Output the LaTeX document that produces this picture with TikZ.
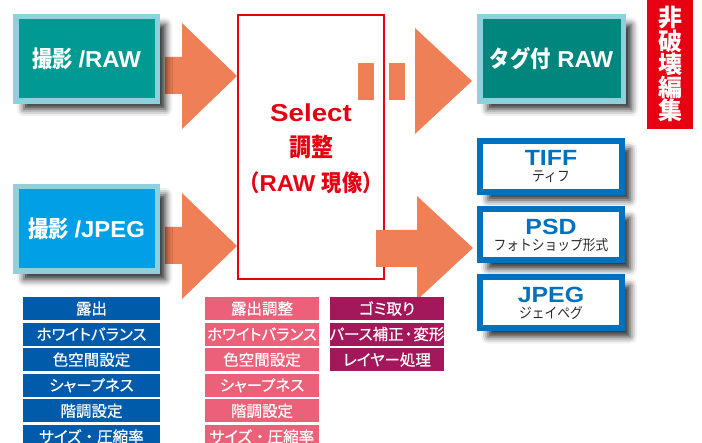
\documentclass[tikz,border=0pt]{standalone}
\usepackage{fontspec}
\setmainfont[FakeStretch=1.04]{Liberation Sans}
\newfontfamily\widelat[FakeStretch=1.13]{Liberation Sans}
\newfontfamily\jp[FakeStretch=0.88]{Noto Sans CJK JP}
\newfontfamily\jplist[FakeBold=0.6,RawFeature=+palt]{Noto Sans CJK JP}
\newfontfamily\jpw{Noto Sans CJK JP}
\newcommand\nakaten{\hspace{4pt}・\hspace{4pt}}
\newcommand\nakatens{\hspace{1pt}・\hspace{1pt}}
\usetikzlibrary{shadows.blur}
\definecolor{tealL}{HTML}{009A92}
\definecolor{tealR}{HTML}{00867C}
\definecolor{lblue}{HTML}{8ED1DD}
\definecolor{brightblue}{HTML}{009FE6}
\definecolor{frameblue}{HTML}{0071BC}
\definecolor{listblue}{HTML}{005BAB}
\definecolor{listpink}{HTML}{EA6179}
\definecolor{listpurple}{HTML}{A3185A}
\definecolor{arrorange}{HTML}{EF7F56}
\definecolor{redc}{HTML}{E60012}
\definecolor{darktext}{HTML}{2B2B2B}
\begin{document}
\begin{tikzpicture}[x=1pt,y=-1pt,
  boxshadow/.style={blur shadow={shadow xshift=8pt,shadow yshift=-8pt,shadow blur radius=7pt,shadow opacity=85}},
  inbox/.style={boxshadow,draw=lblue,line width=5.5pt,inner sep=0pt,minimum width=141.5pt,minimum height=84.5pt,text=white,font=\fontsize{23}{26}\selectfont\bfseries},
  fmtbox/.style={boxshadow,draw=frameblue,fill=white,line width=6pt,inner sep=0pt,minimum width=142pt,minimum height=51pt},
  fmtbig/.style={text=frameblue,font=\widelat\fontsize{22}{24}\selectfont\bfseries,inner sep=0pt},
  fmtsmall/.style={text=darktext,font=\jp\fontsize{14.5}{16}\selectfont,inner sep=0pt},
  arr/.style={fill=arrorange},
  listitem/.style={inner sep=0pt,minimum height=23pt,text=white,font=\jplist\fontsize{15.5}{17}\selectfont},
  bl/.style={listitem,fill=listblue,minimum width=137pt},
  pk/.style={listitem,fill=listpink,minimum width=114pt},
  pu/.style={listitem,fill=listpurple,minimum width=114pt}]
\useasboundingbox (0,0) rectangle (702,443);

% left arrows
\fill[arr] (165,57) -- (182,57) -- (182,23) -- (237,76) -- (182,129) -- (182,94) -- (165,94) -- cycle;
\fill[arr] (165,227) -- (182,227) -- (182,193) -- (237,246) -- (182,299) -- (182,264) -- (165,264) -- cycle;

% input boxes
\node[inbox,fill=tealL] (rawin) at (86.5,59) {{\jp\bfseries 撮影}\hspace{6pt}/RAW};
\node[inbox,fill=brightblue] (jpgin) at (86.5,229) {{\jp\bfseries 撮影}\hspace{6pt}/JPEG};

% central box
\node[draw=redc,line width=2pt,minimum width=146pt,minimum height=264pt,inner sep=0pt] (sel) at (311,147) {};
\node[text=redc,align=center,inner sep=0pt,font=\fontsize{23}{35}\selectfont\bfseries] (seltext) at (311,149)
  {{\widelat\fontsize{24.5}{35}\selectfont Select}\\{\jp\bfseries\fontsize{25}{35}\selectfont 調整}\\{\jp\bfseries （}RAW {\jp\bfseries 現像）}};

% dashed arrow to tagged RAW
\fill[arr] (358,63) rectangle (374,100);
\fill[arr] (389,63) rectangle (405,100);
\fill[arr] (415,28) -- (472,81) -- (415,134) -- cycle;

% lower right arrow
\fill[arr] (376,230) -- (417,230) -- (417,196) -- (473,248) -- (417,300) -- (417,267) -- (376,267) -- cycle;

% tagged RAW box
\node[inbox,fill=tealR,minimum width=143.5pt] (tagraw) at (551.5,59) {{\jp\bfseries タグ付} RAW};

% non-destructive label
\fill[redc] (647,0) rectangle (693,129);
\node[text=white,align=center,inner sep=0pt,font=\jpw\fontsize{24}{23}\selectfont\bfseries] (hakai) at (670,64)
  {非\\破\\壊\\編\\集};

% format boxes
\node[fmtbox] (tiff) at (551,166.5) {};
\node[fmtbig] (tiffa) at (551,158) {TIFF};
\node[fmtsmall] (tiffb) at (551,177) {ティフ};
\node[fmtbox] (psd) at (551,235) {};
\node[fmtbig] (psda) at (551,227) {PSD};
\node[fmtsmall] (psdb) at (551,245) {フォトショップ形式};
\node[fmtbox] (jpg) at (551,303) {};
\node[fmtbig] (jpga) at (551,295) {JPEG};
\node[fmtsmall] (jpgb) at (551,313) {ジェイペグ};

% lists
\foreach \t [count=\i from 0] in {露出,ホワイトバランス,色空間設定,シャープネス,階調設定,サイズ\nakaten 圧縮率}
  \node[bl] (b\i) at (91.5,{308.5+25.6*\i}) {\t};
\foreach \t [count=\i from 0] in {露出調整,ホワイトバランス,色空間設定,シャープネス,階調設定,サイズ\nakaten 圧縮率}
  \node[pk] (p\i) at (262,{308.5+25.6*\i}) {\t};
\foreach \t [count=\i from 0] in {ゴミ取り,パース補正\nakatens 変形,レイヤー処理}
  \node[pu] (u\i) at (387,{308.5+25.6*\i}) {\t};
\end{tikzpicture}
\end{document}
